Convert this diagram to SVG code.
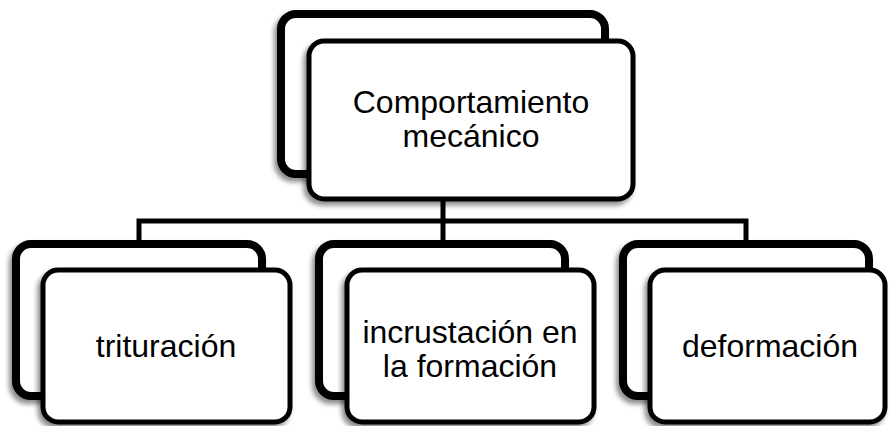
<svg xmlns="http://www.w3.org/2000/svg" width="890" height="426" viewBox="0 0 890 426">
<defs>
<filter id="sh" x="-10%" y="-10%" width="120%" height="125%">
<feDropShadow dx="-3" dy="4" stdDeviation="2.5" flood-color="#000" flood-opacity="0.45"/>
</filter>
</defs>
<style>
.back{fill:#fff;stroke:#000;stroke-width:8;filter:url(#sh)}
.front{fill:#fff;stroke:#000;stroke-width:5;filter:url(#sh)}
.conn{fill:none;stroke:#000;stroke-width:5}
text{font-family:"Liberation Sans",Arial,sans-serif;font-size:32px;fill:#000;text-anchor:middle}
</style>
<rect width="890" height="426" fill="#fff"/>
<g id="connectors">
<path class="conn" d="M443 174 V221 M139 244 V221 H746 V244 M443 221 V244"/>
</g>
<g id="node-top">
<rect class="back" x="281" y="14" width="324" height="160" rx="15"/>
<rect class="front" x="309" y="41" width="324" height="158" rx="15"/>
<text x="471" y="113">Comportamiento</text>
<text x="471" y="147">mecánico</text>
</g>
<g id="node-trituracion">
<rect class="back" x="16" y="244" width="246" height="152" rx="15"/>
<rect class="front" x="43" y="270" width="247" height="152" rx="15"/>
<text x="166" y="357">trituración</text>
</g>
<g id="node-incrustacion">
<rect class="back" x="319" y="244" width="246" height="152" rx="15"/>
<rect class="front" x="347" y="270" width="247" height="152" rx="15"/>
<text x="470" y="343">incrustación en</text>
<text x="470" y="377">la formación</text>
</g>
<g id="node-deformacion">
<rect class="back" x="623" y="244" width="246" height="152" rx="15"/>
<rect class="front" x="650" y="270" width="235" height="152" rx="15"/>
<text x="770" y="357">deformación</text>
</g>
</svg>
